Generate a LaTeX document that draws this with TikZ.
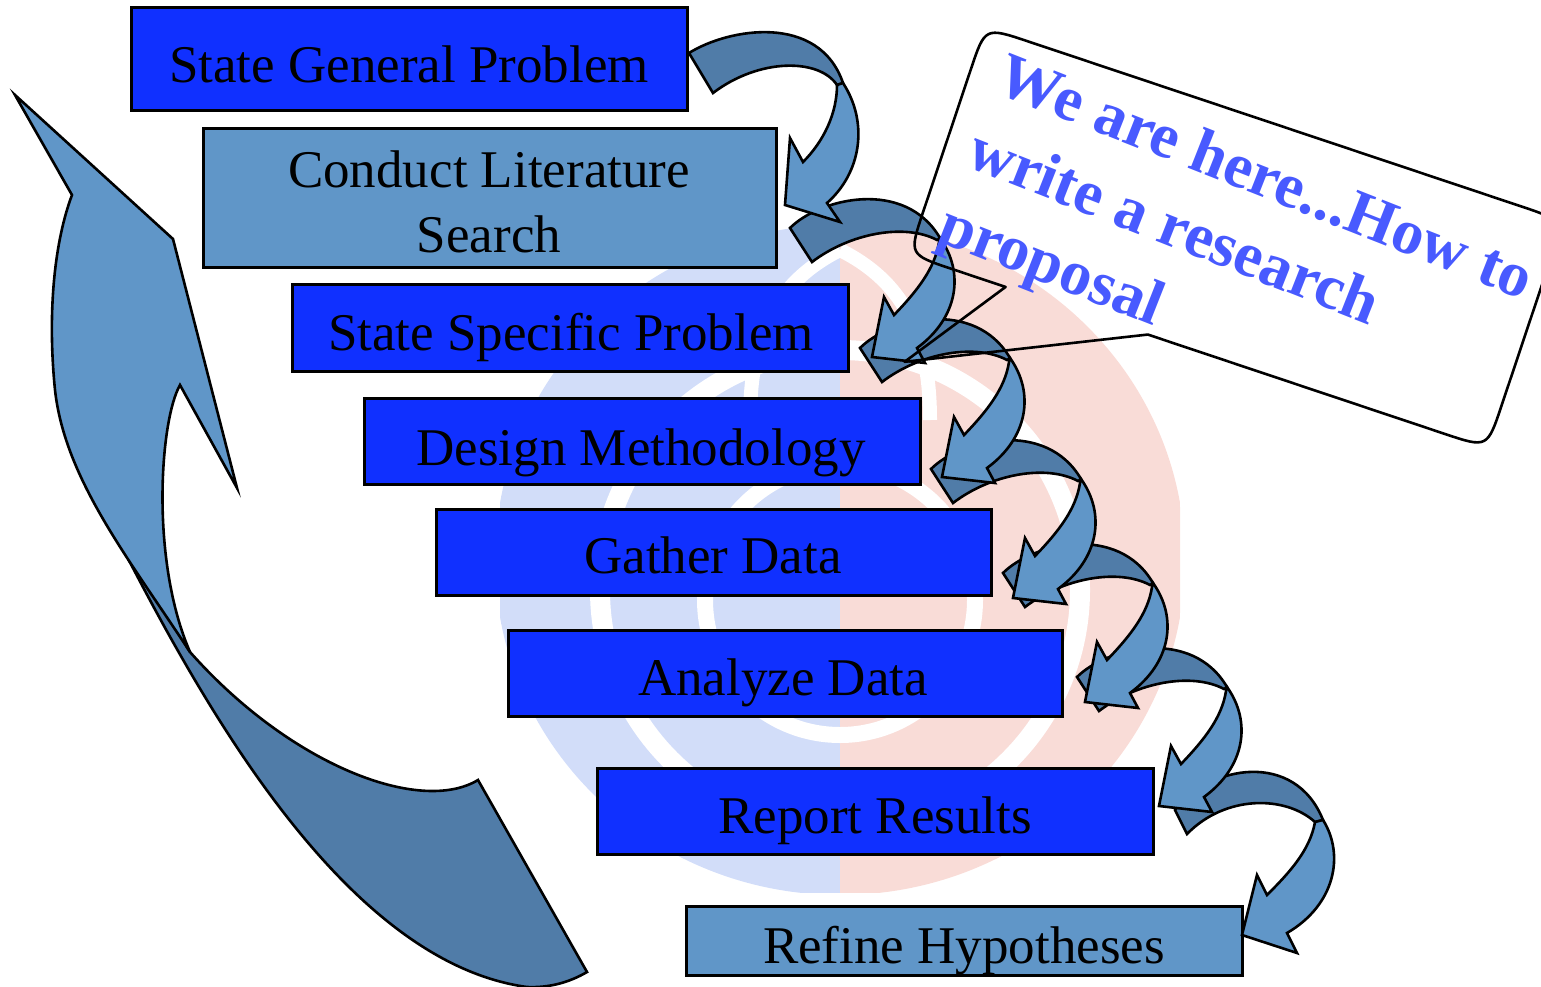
\documentclass[tikz,border=0pt]{standalone}
\usepackage{fontspec}
\setmainfont{Liberation Serif}
\definecolor{bbox}{RGB}{16,48,255}
\definecolor{lbox}{RGB}{96,150,200}
\definecolor{dark}{RGB}{80,124,168}
\definecolor{ctext}{RGB}{72,90,255}
\definecolor{wmb}{RGB}{210,221,249}
\definecolor{wmr}{RGB}{249,220,215}
\tikzset{
  boxb/.style={draw=black, line width=3pt, fill=bbox, inner sep=0pt},
  boxl/.style={boxb, fill=lbox},
  lbl/.style={inner sep=0pt, font=\fontsize{53}{64}\selectfont, text=black},
  rib/.style={draw=black, line width=2.6pt, line join=miter},
  ribdark/.style={rib, fill=dark},
  riblight/.style={rib, fill=lbox},
  pics/ribbon/.style={code={
    \path[ribdark] (0,0) .. controls (30,-30) and (115,-50) .. (150,10) -- (147,12) .. controls (115,-5) and (60,5) .. (22,34) -- cycle;
    \path[riblight] (150,10) .. controls (175,45) and (168,90) .. (127,120) -- (135,135) -- (82,129) -- (94,69) -- (104,87) .. controls (128,62) and (145,40) .. (149,14) -- cycle;
  }},
}
\begin{document}
\begin{tikzpicture}[x=1pt, y=-1pt]
\useasboundingbox (0,0) rectangle (1541,987);
% watermark
\begin{scope}
  \clip (500,228) rectangle (1180,892);
  \clip (840,560) ellipse [x radius=345, y radius=335];
  \fill[wmb] (490,220) rectangle (840,900);
  \fill[wmr] (840,220) rectangle (1190,900);
  \draw[white, line width=20pt] (840,590) circle [radius=240];
  \draw[white, line width=16pt] (840,600) circle [radius=135];
  \draw[white, line width=14pt] (840,250) .. controls (900,280) and (930,330) .. (930,420);
  \draw[white, line width=14pt] (840,250) .. controls (780,280) and (750,330) .. (750,420);
\end{scope}
% boxes
\node[boxb, minimum width=556pt, minimum height=103pt] (b1) at (409,59.5) {};
\node[boxl, minimum width=573pt, minimum height=138pt] (b2) at (489.5,198) {};
\node[boxb, minimum width=556pt, minimum height=87pt] (b3) at (570,327.5) {};
\node[boxb, minimum width=556pt, minimum height=86pt] (b4) at (642,441) {};
\node[boxb, minimum width=555pt, minimum height=86pt] (b5) at (713.5,552) {};
\node[boxb, minimum width=554pt, minimum height=86pt] (b6) at (785,673) {};
\node[boxb, minimum width=556pt, minimum height=86pt] (b7) at (875,811) {};
\node[boxl, minimum width=556pt, minimum height=69pt] (b8) at (964,940.5) {};
% labels
\node[lbl, anchor=base] (t1) at (409,83) {State General Problem};
\node[lbl, anchor=base] (t2a) at (489,188) {Conduct Literature};
\node[lbl, anchor=base] (t2b) at (489,252) {Search};
\node[lbl, anchor=base] (t3) at (571,350) {State Specific Problem};
\node[lbl, anchor=base] (t4) at (641,465) {Design Methodology};
\node[lbl, anchor=base] (t5) at (713,573) {Gather Data};
\node[lbl, anchor=base] (t6) at (783,695) {Analyze Data};
\node[lbl, anchor=base] (t7) at (875,833) {Report Results};
\node[lbl, anchor=base] (t8) at (964,963) {Refine Hypotheses};
% big return arrow
\path[ribdark] (102,508) .. controls (180,660) and (330,960) .. (527,987) .. controls (550,988) and (570,982) .. (587,972) -- (478,780) .. controls (420,815) and (290,765) .. (190,652) -- cycle;
\path[riblight] (15,95) -- (173,239) -- (237,488) -- (180,385) .. controls (160,420) and (150,560) .. (190,652) .. controls (130,560) and (65,480) .. (55,390) .. controls (47,310) and (55,240) .. (72,195) -- cycle;
% step arrows (last first)
\begin{scope}[shift={(1175,810)}]
  \path[ribdark] (0,0) .. controls (35,-45) and (120,-60) .. (148,10) -- (140,12) .. controls (110,-15) and (50,-15) .. (12,24) -- cycle;
  \path[riblight] (148,10) .. controls (170,45) and (160,95) .. (112,123) -- (122,143) -- (67,125) -- (82,65) -- (92,85) .. controls (115,62) and (135,40) .. (140,12) -- cycle;
\end{scope}
\pic at (1077,677) {ribbon};
\pic at (1003,573) {ribbon};
\pic at (931,469) {ribbon};
\pic at (860,348) {ribbon};
\pic at (790,228) {ribbon};
\begin{scope}[shift={(689,53)}]
  \path[ribdark] (0,0) .. controls (40,-25) and (130,-40) .. (154,30) -- (148,32) .. controls (130,5) and (70,5) .. (24,40) -- cycle;
  \path[riblight] (154,30) .. controls (180,70) and (172,120) .. (138,150) -- (151,169) -- (96,152) -- (101,85) -- (114,109) .. controls (135,88) and (148,60) .. (148,32) -- cycle;
\end{scope}
% callout
\begin{scope}[shift={(985,27)}, rotate=-18.5]
  \path[draw=black, line width=2.6pt, line join=round] (45,0) -- (565,0) .. controls (610,0) .. (610,45) -- (610,195) .. controls (610,240) .. (565,240) -- (252,240) -- (30,343) -- (102,240) -- (45,240) .. controls (0,240) .. (0,195) -- (0,45) .. controls (0,0) .. (45,0) -- cycle;
\end{scope}
\node[anchor=north west, inner sep=0pt, rotate=-21.5, align=left, text=ctext, font=\fontsize{63.5}{80}\selectfont\bfseries] (ct) at (1010,50) {We are here...How to\\write a research\\proposal};
\end{tikzpicture}
\end{document}
